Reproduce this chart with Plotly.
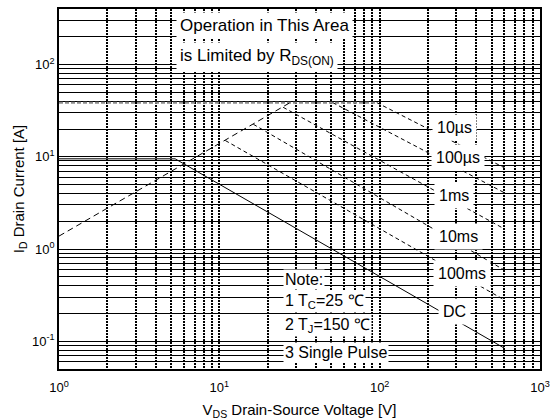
import math
import plotly.graph_objects as go

# ---- data ----
rds_v = [1, 27.6]
rds_i = [1.38, 38.6]
lim_v = [1, 96]
lim_i = [38.6, 38.6]
p10us_v = [96, 600]
p10us_i = [38.6, 7.6]
p100us_v = [51, 600]
p100us_i = [38.6, 4.07]
p1ms_v = [25, 600]
p1ms_i = [34.4, 1.65]
p10ms_v = [16.3, 600]
p10ms_i = [22.5, 0.59]
p100ms_v = [10.9, 600]
p100ms_i = [15.0, 0.28]
dc_v = [1, 5.3, 600]
dc_i = [9.5, 9.5, 0.084]

pulse_labels = ["10µs", "100µs", "1ms", "10ms", "100ms", "DC"]
pulse_label_v = [295, 308, 291, 308, 327, 291]
pulse_label_i = [21.0, 9.7, 3.8, 1.36, 0.54, 0.21]

note_lines = ["Note:", "1 T<sub>C</sub>=25 ℃", "2 T<sub>J</sub>=150 ℃", "3 Single Pulse"]
note_i = [0.472, 0.268, 0.147, 0.0759]
note_v = 25.0

area_lines = ["Operation in This Area", "is Limited by R<sub>DS(ON)</sub>"]
area_i = [265, 122]
area_v = 5.4

x_decades = [0, 1, 2, 3]
y_decades = [-1, 0, 1, 2]
x_ticktext = ["10<sup>0</sup>", "10<sup>1</sup>", "10<sup>2</sup>", "10<sup>3</sup>"]
y_ticktext = ["10<sup>-1</sup>", "10<sup>0</sup>", "10<sup>1</sup>", "10<sup>2</sup>"]

# ---- gridline positions (2..9 per decade as minor lines) ----
x_tickvals = [10.0 ** e for e in x_decades]
y_tickvals = [10.0 ** e for e in y_decades]
x_minor = [m * 10.0 ** e for e in range(0, 3) for m in range(2, 10)]
y_minor = [m * 10.0 ** e for e in range(-2, 3) for m in range(2, 10)
           if 0.0499 <= m * 10.0 ** e <= 400.01]

FONT = "Liberation Sans, Arial, Helvetica, sans-serif"

fig = go.Figure()

fig.add_trace(go.Scatter(x=lim_v, y=lim_i, mode="lines",
                         line=dict(color="#8c8c8c", width=2, dash="4px,2px")))
fig.add_trace(go.Scatter(x=rds_v, y=rds_i, mode="lines",
                         line=dict(color="black", width=1, dash="6px,4px")))
for xs, ys in [(p10us_v, p10us_i), (p100us_v, p100us_i), (p1ms_v, p1ms_i),
               (p10ms_v, p10ms_i), (p100ms_v, p100ms_i)]:
    fig.add_trace(go.Scatter(x=xs, y=ys, mode="lines",
                             line=dict(color="black", width=1, dash="4px,3px")))
fig.add_trace(go.Scatter(x=dc_v, y=dc_i, mode="lines",
                         line=dict(color="black", width=1)))

annotations = []
for t, v, i in zip(pulse_labels, pulse_label_v, pulse_label_i):
    annotations.append(dict(x=math.log10(v), y=math.log10(i), xref="x", yref="y",
                            text=t, showarrow=False, bgcolor="white", borderpad=4,
                            font=dict(family=FONT, size=16, color="black")))
for t, i in zip(note_lines, note_i):
    annotations.append(dict(x=math.log10(note_v), y=math.log10(i), xref="x", yref="y",
                            text=t, showarrow=False, bgcolor="white", borderpad=1,
                            xanchor="left",
                            font=dict(family=FONT, size=16, color="black")))
for t, i in zip(area_lines, area_i):
    annotations.append(dict(x=math.log10(area_v), y=math.log10(i), xref="x", yref="y",
                            text=t, showarrow=False, bgcolor="white", borderpad=3,
                            xanchor="left",
                            font=dict(family=FONT, size=17, color="black")))

fig.update_layout(
    width=550, height=420,
    margin=dict(l=59, r=10, t=9, b=51),
    paper_bgcolor="white", plot_bgcolor="white",
    showlegend=False,
    annotations=annotations,
    font=dict(family=FONT, size=13, color="black"),
)
fig.update_xaxes(
    type="log", range=[0, 3], automargin=False,
    tickmode="array", tickvals=x_tickvals, ticktext=x_ticktext,
    ticks="", ticklabelstandoff=6,
    showgrid=True, gridcolor="black", gridwidth=1.5, griddash="2px,1px",
    minor=dict(tickmode="array", tickvals=x_minor, ticks="", showgrid=True,
               gridcolor="black", gridwidth=1.5, griddash="2px,1px"),
    showline=True, mirror=True, linecolor="black", linewidth=1.5,
    zeroline=False, tickfont=dict(size=13),
    title=dict(text="V<sub>DS</sub> Drain-Source Voltage [V]", font=dict(size=15), standoff=10),
)
fig.update_yaxes(
    type="log", range=[math.log10(0.05), math.log10(400)], automargin=False,
    tickmode="array", tickvals=y_tickvals, ticktext=y_ticktext,
    ticks="", showgrid=True, gridcolor="black", gridwidth=1.3,
    minor=dict(tickmode="array", tickvals=y_minor, ticks="", showgrid=True,
               gridcolor="black", gridwidth=1.3),
    showline=True, mirror=True, linecolor="black", linewidth=1.5,
    zeroline=False, tickfont=dict(size=13),
    title=dict(text="I<sub>D</sub> Drain Current [A]", font=dict(size=15), standoff=4),
)

fig.write_html("out.html", config={"displayModeBar": False},
               post_script="document.body.style.margin='0';")
